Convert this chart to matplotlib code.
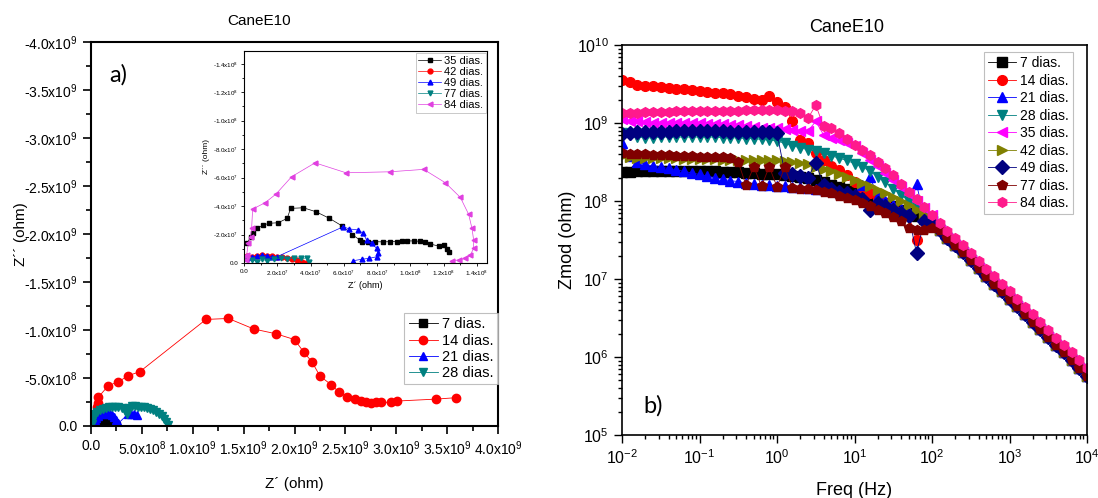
import numpy as np
import matplotlib
matplotlib.use("Agg")
import matplotlib.pyplot as plt
from matplotlib.ticker import FuncFormatter, MultipleLocator, LogLocator, NullFormatter

plt.rcParams['font.family'] = ['Liberation Sans', 'DejaVu Sans']
plt.rcParams['mathtext.default'] = 'regular'

# ---- a) Nyquist 7-28 dias, Z' and -Z'' in units of 1e9 ohm
zre_7 = [0.25, 0.24, 0.23, 0.22, 0.20, 0.18, 0.15, 0.12, 0.09, 0.06, 0.04, 0.02]
mzim_7 = [0.005, 0.015, 0.025, 0.035, 0.045, 0.05, 0.055, 0.055, 0.05, 0.04, 0.03, 0.015]

zre_14 = [3.59, 3.39, 3.01, 2.95, 2.85, 2.80, 2.75, 2.70, 2.65, 2.59, 2.52, 2.44, 2.36, 2.25,
          2.17, 2.09, 2.00, 1.82, 1.60, 1.35, 1.13, 0.48, 0.366, 0.268, 0.17, 0.072, 0.068, 0.063]
mzim_14 = [0.295, 0.28, 0.26, 0.247, 0.245, 0.25, 0.238, 0.247, 0.26, 0.28, 0.305, 0.35, 0.43, 0.52,
           0.67, 0.77, 0.90, 0.96, 1.01, 1.12, 1.11, 0.566, 0.524, 0.46, 0.42, 0.30, 0.236, 0.20]

zre_21 = [0.45, 0.42, 0.39, 0.36, 0.27, 0.25, 0.23, 0.21, 0.19, 0.17, 0.15, 0.13, 0.11,
          0.09, 0.07, 0.05, 0.04, 0.03, 0.02]
mzim_21 = [0.11, 0.12, 0.13, 0.12, 0.03, 0.06, 0.09, 0.11, 0.12, 0.13, 0.14, 0.14, 0.13,
           0.12, 0.10, 0.08, 0.06, 0.04, 0.02]

zre_28 = [0.76, 0.74, 0.72, 0.70, 0.67, 0.64, 0.61, 0.58, 0.55, 0.52, 0.49, 0.46, 0.43, 0.40, 0.37,
          0.35, 0.33, 0.30, 0.27, 0.24, 0.21, 0.18, 0.15, 0.12, 0.09, 0.06, 0.04, 0.02, 0.01, 0.005]
mzim_28 = [0.01, 0.04, 0.07, 0.10, 0.13, 0.15, 0.17, 0.18, 0.19, 0.20, 0.20, 0.20, 0.205, 0.21, 0.19,
           0.13, 0.16, 0.19, 0.20, 0.20, 0.20, 0.20, 0.19, 0.18, 0.17, 0.15, 0.12, 0.09, 0.05, 0.02]

# ---- inset, 35-84 dias, units of 1e7 ohm
zre_35 = [0.2, 0.4, 0.56, 0.8, 1.16, 1.52, 2.06, 2.6, 2.8, 3.57, 4.33, 5.13, 5.9, 6.5, 6.97, 7.07,
          7.47, 7.87, 8.37, 8.77, 9.17, 9.47, 9.77, 10.2, 10.6, 10.9, 11.2, 11.7, 12.0, 12.2, 12.3]
mzim_35 = [1.38, 1.85, 2.13, 2.43, 2.67, 2.79, 2.83, 3.14, 3.84, 3.88, 3.6, 3.14, 2.6, 2.0, 1.61, 1.5,
           1.5, 1.5, 1.48, 1.5, 1.5, 1.52, 1.55, 1.55, 1.52, 1.5, 1.33, 1.19, 1.26, 0.96, 0.79]

zre_42 = [0.2, 0.5, 0.8, 1.1, 1.4, 1.7, 2.0, 2.3, 2.6, 2.9, 3.2, 3.5, 3.75]
mzim_42 = [0.5, 0.45, 0.5, 0.55, 0.5, 0.5, 0.45, 0.4, 0.32, 0.25, 0.18, 0.1, 0.03]

zre_49 = [0.2, 0.5, 0.8, 1.1, 1.4, 1.7, 2.0, 5.97, 6.3, 6.87, 7.17, 7.37, 7.67, 7.97, 8.07, 7.97,
          7.53, 7.07, 6.57]
mzim_49 = [0.35, 0.4, 0.5, 0.55, 0.5, 0.45, 0.45, 2.55, 2.4, 2.32, 2.08, 1.6, 1.38, 1.03, 0.68, 0.44,
           0.33, 0.26, 0.16]

zre_77 = [0.2, 0.5, 0.8, 1.1, 1.4, 1.8, 2.2, 2.6, 3.0, 3.4, 3.8, 3.9]
mzim_77 = [0.3, 0.22, 0.1, 0.28, 0.12, 0.28, 0.33, 0.3, 0.35, 0.32, 0.35, 0.04]

zre_84 = [0.1, 0.1, 0.16, 0.26, 0.40, 0.46, 0.52, 1.26, 1.92, 2.86, 4.27, 6.13, 8.77, 10.8, 12.1,
          13.0, 13.5, 13.7, 13.8, 13.8, 13.6, 13.3, 12.9, 12.5]
mzim_84 = [0.2, 0.5, 0.56, 1.38, 1.85, 2.43, 3.79, 4.23, 4.84, 6.06, 7.04, 6.34, 6.41, 6.58, 5.64,
           4.61, 3.42, 2.43, 1.61, 1.03, 0.56, 0.33, 0.21, 0.16]

# ---- b) Bode modulus, log10(Zmod / ohm)
freq = [0.01, 0.0126, 0.0158, 0.02, 0.0251, 0.0316, 0.0398, 0.0501, 0.0631, 0.0794,
        0.1, 0.126, 0.158, 0.2, 0.251, 0.316, 0.398, 0.501, 0.631, 0.794,
        1, 1.26, 1.58, 2, 2.51, 3.16, 3.98, 5.01, 6.31, 7.94,
        10, 12.6, 15.8, 20, 25.1, 31.6, 39.8, 50.1, 63.1, 79.4,
        100, 126, 158, 200, 251, 316, 398, 501, 631, 794,
        1000, 1260, 1580, 2000, 2510, 3160, 3980, 5010, 6310, 7940, 10000]

# 0.01 Hz .. 100 Hz
logz_7 = [8.37, 8.37, 8.38, 8.38, 8.38, 8.38, 8.38, 8.38, 8.38, 8.38, 8.38, 8.38, 8.38, 8.37, 8.37,
          8.37, 8.36, 8.36, 8.35, 8.35, 8.34,
          8.33, 8.32, 8.31, 8.29, 8.27, 8.24, 8.21, 8.18, 8.15, 8.12, 8.09, 8.05, 8.01, 7.97, 7.93,
          7.89, 7.85, 7.81, 7.77, 7.75]
logz_14 = [9.55, 9.52, 9.49, 9.48, 9.47, 9.46, 9.45, 9.44, 9.43, 9.42, 9.41, 9.40, 9.39, 9.38, 9.37,
           9.35, 9.33, 9.31, 9.30, 9.34, 9.27,
           9.21, 9.02, 8.78, 8.75, 8.62, 8.52, 8.45, 8.40, 8.33, 8.25, 8.17, 8.10, 8.03, 7.97, 7.91,
           7.85, 7.81, 7.50, 7.75, 7.73]
logz_21 = [8.74, 8.58, 8.50, 8.47, 8.45, 8.43, 8.42, 8.40, 8.38, 8.36, 8.34, 8.32, 8.30, 8.28, 8.26,
           8.25, 8.23, 8.22, 8.21, 8.20, 8.19,
           8.19, 8.18, 8.18, 8.17, 8.16, 8.15, 8.14, 8.12, 8.10, 8.08, 8.20, 8.31, 8.06, 8.00, 7.95,
           7.90, 7.86, 8.22, 7.78, 7.75]
logz_28 = [8.87, 8.84, 8.82, 8.81, 8.81, 8.82, 8.82, 8.82, 8.82, 8.82, 8.82, 8.82, 8.82, 8.81, 8.81,
           8.81, 8.80, 8.80, 8.79, 8.78, 8.77,
           8.74, 8.71, 8.68, 8.66, 8.64, 8.61, 8.58, 8.55, 8.52, 8.48, 8.44, 8.38, 8.31, 8.24, 8.16,
           8.08, 8.00, 7.92, 7.84, 7.77]
logz_35 = [9.05, 9.03, 9.02, 9.01, 9.00, 9.00, 9.00, 9.00, 9.00, 9.00, 9.00, 8.99, 8.99, 8.99, 8.98,
           8.97, 8.96, 8.95, 8.94, 8.93, 8.93,
           8.92, 8.91, 8.90, 8.90, 9.02, 8.85, 8.81, 8.78, 8.75, 8.70, 8.62, 8.53, 8.45, 8.36, 8.27,
           8.18, 8.09, 8.00, 7.91, 7.82]
logz_42 = [8.58, 8.56, 8.55, 8.55, 8.55, 8.55, 8.55, 8.55, 8.54, 8.54, 8.54, 8.54, 8.54, 8.53, 8.53,
           8.53, 8.53, 8.53, 8.52, 8.52, 8.52,
           8.51, 8.50, 8.49, 8.47, 8.44, 8.41, 8.38, 8.35, 8.31, 8.27, 8.23, 8.19, 8.14, 8.10, 8.05,
           8.00, 7.95, 7.88, 7.82, 7.75]
logz_49 = [8.86, 8.87, 8.88, 8.88, 8.89, 8.89, 8.89, 8.90, 8.90, 8.90, 8.90, 8.90, 8.90, 8.90, 8.89,
           8.89, 8.89, 8.89, 8.88, 8.88, 8.87,
           8.36, 8.34, 8.32, 8.30, 8.49, 8.20, 8.15, 8.12, 8.10, 8.07, 8.03, 7.88, 7.97, 7.93, 7.89,
           7.85, 7.81, 7.33, 7.75, 7.72]
logz_77 = [8.61, 8.60, 8.60, 8.60, 8.59, 8.59, 8.59, 8.58, 8.58, 8.58, 8.57, 8.57, 8.56, 8.56, 8.55,
           8.50, 8.20, 8.44, 8.19, 8.44, 8.18,
           8.43, 8.17, 8.16, 8.15, 8.14, 8.12, 8.10, 8.07, 8.04, 8.01, 7.97, 7.93, 7.88, 7.84, 7.79,
           7.74, 7.66, 7.63, 7.63, 7.65]
logz_84 = [9.13, 9.13, 9.13, 9.14, 9.14, 9.14, 9.14, 9.15, 9.15, 9.15, 9.15, 9.15, 9.16, 9.16, 9.16,
           9.16, 9.17, 9.17, 9.17, 9.17, 9.17,
           9.16, 9.15, 9.13, 9.06, 9.23, 8.96, 8.93, 8.87, 8.80, 8.72, 8.65, 8.59, 8.50, 8.42, 8.33,
           8.22, 8.12, 8.02, 7.92, 7.82]
# 126 Hz .. 10 kHz, where all curves merge
tail_hi = [7.72, 7.62, 7.53, 7.43, 7.33, 7.23, 7.13, 7.04, 6.94, 6.84,
           6.74, 6.64, 6.55, 6.45, 6.35, 6.25, 6.15, 6.06, 5.96, 5.86]
tail_lo = [7.63, 7.53, 7.43, 7.34, 7.24, 7.14, 7.04, 6.94, 6.85, 6.75,
           6.65, 6.55, 6.45, 6.36, 6.26, 6.16, 6.06, 5.96, 5.86, 5.76]

labels_b = ["7 dias.", "14 dias.", "21 dias.", "28 dias.", "35 dias.",
            "42 dias.", "49 dias.", "77 dias.", "84 dias."]
heads_b = [logz_7, logz_14, logz_21, logz_28, logz_35, logz_42, logz_49, logz_77, logz_84]
markers_b = ['s', 'o', '^', 'v', '<', '>', 'D', 'p', 'h']
colors_b = ['#000000', '#ff0000', '#0000ff', '#008080', '#ff00ff',
            '#808000', '#000080', '#800000', '#ff1a8c']


def sci_label(v, pos):
    if abs(v) < 1:
        return "0.0"
    e = int(np.floor(np.log10(abs(v)) + 1e-9))
    return "%.1fx10$^{%d}$" % (v / 10 ** e, e)


def style_box(ax, lw):
    for s in ax.spines.values():
        s.set_linewidth(lw)


fig = plt.figure(figsize=(10.98, 4.98), dpi=100)

# ---------------- panel a
ax1 = fig.add_axes([0.0829, 0.1446, 0.3707, 0.7711])
a_sets = [(zre_7, mzim_7, 's', '#000000', "7 dias."),
          (zre_14, mzim_14, 'o', '#ff0000', "14 dias."),
          (zre_21, mzim_21, '^', '#0000ff', "21 dias."),
          (zre_28, mzim_28, 'v', '#008080', "28 dias.")]
for xr, yi, m, c, lab in a_sets:
    ax1.plot(np.array(xr) * 1e9, -np.array(yi) * 1e9, marker=m, ms=6, color=c,
             mec=c, lw=0.6, label=lab)
ax1.set_xlim(0, 4.0e9)
ax1.set_ylim(0, -4.0e9)
ax1.xaxis.set_major_locator(MultipleLocator(0.5e9))
ax1.xaxis.set_minor_locator(MultipleLocator(0.25e9))
ax1.yaxis.set_major_locator(MultipleLocator(0.5e9))
ax1.yaxis.set_minor_locator(MultipleLocator(0.25e9))
ax1.xaxis.set_major_formatter(FuncFormatter(sci_label))
ax1.yaxis.set_major_formatter(FuncFormatter(sci_label))
ax1.tick_params(which='both', direction='out', width=1.2, labelsize=10)
ax1.tick_params(which='major', length=6)
ax1.tick_params(which='minor', length=3.5)
style_box(ax1, 1.5)
ax1.set_xlabel("Z\u00b4 (ohm)", fontsize=11)
ax1.set_ylabel("Z\u00b4\u00b4 (ohm)", fontsize=11)
ax1.xaxis.set_label_coords(0.5, -0.133)
ax1.yaxis.set_label_coords(-0.155, 0.5)
leg1 = ax1.legend(loc='upper right', bbox_to_anchor=(1.0, 0.294), fontsize=10.5,
                  frameon=True, fancybox=False, edgecolor='#b0b0b0', borderaxespad=0,
                  handlelength=2.0, labelspacing=0.15, borderpad=0.3, handletextpad=0.3)
leg1.get_frame().set_linewidth(0.8)
ax1.text(0.045, 0.915, "a)", transform=ax1.transAxes, fontsize=17, family='Lato',
         ha='left', va='center')
fig.text(0.236, 0.957, "CaneE10", fontsize=11, ha='center', va='center')

# ---------------- inset
axi = fig.add_axes([0.2222, 0.4719, 0.2213, 0.4257])
i_sets = [(zre_35, mzim_35, 's', '#000000', "35 dias."),
          (zre_42, mzim_42, 'o', '#ff0000', "42 dias."),
          (zre_49, mzim_49, '^', '#0000ff', "49 dias."),
          (zre_77, mzim_77, 'v', '#008080', "77 dias."),
          (zre_84, mzim_84, '<', '#e040e0', "84 dias.")]
for xr, yi, m, c, lab in i_sets:
    axi.plot(np.array(xr) * 1e7, -np.array(yi) * 1e7, marker=m, ms=3.5, color=c,
             mec=c, lw=0.5, label=lab)
axi.set_xlim(0, 1.46e8)
axi.set_ylim(0, -1.49e8)
axi.xaxis.set_major_locator(MultipleLocator(2e7))
axi.xaxis.set_minor_locator(MultipleLocator(1e7))
axi.yaxis.set_major_locator(MultipleLocator(2e7))
axi.yaxis.set_minor_locator(MultipleLocator(1e7))
axi.xaxis.set_major_formatter(FuncFormatter(sci_label))
axi.yaxis.set_major_formatter(FuncFormatter(sci_label))
axi.tick_params(which='both', direction='out', width=0.6, labelsize=4.5, pad=1.5)
axi.tick_params(which='major', length=2.5)
axi.tick_params(which='minor', length=1.5)
style_box(axi, 0.8)
axi.set_xlabel("Z\u00b4 (ohm)", fontsize=6.5, labelpad=2)
axi.set_ylabel("Z\u00b4\u00b4 (ohm)", fontsize=6, labelpad=2)
legi = axi.legend(loc='upper right', bbox_to_anchor=(0.995, 0.99), fontsize=8,
                  frameon=True, fancybox=False, edgecolor='#b0b0b0', borderaxespad=0,
                  handlelength=2.0, labelspacing=0.1, borderpad=0.25, handletextpad=0.3)
legi.get_frame().set_linewidth(0.6)

# ---------------- panel b
ax2 = fig.add_axes([0.5665, 0.1265, 0.4235, 0.7831])
for lab, head, m, c in zip(labels_b, heads_b, markers_b, colors_b):
    tail = tail_hi if lab == "84 dias." else tail_lo
    ax2.plot(freq, 10 ** np.array(head + tail), marker=m, ms=7, color=c, mec=c,
             lw=0.6, label=lab)
ax2.set_xscale('log')
ax2.set_yscale('log')
ax2.set_xlim(1e-2, 1e4)
ax2.set_ylim(1e5, 1e10)
for axis in (ax2.xaxis, ax2.yaxis):
    axis.set_major_locator(LogLocator(base=10, numticks=20))
    axis.set_minor_locator(LogLocator(base=10, subs=np.arange(2, 10), numticks=20))
    axis.set_minor_formatter(NullFormatter())
ax2.tick_params(which='both', direction='out', width=1.0, labelsize=11.5)
ax2.tick_params(which='major', length=6)
ax2.tick_params(which='minor', length=3)
style_box(ax2, 1.2)
ax2.set_xlabel("Freq (Hz)", fontsize=13)
ax2.set_ylabel("Zmod (ohm)", fontsize=13)
ax2.xaxis.set_label_coords(0.5, -0.12)
ax2.yaxis.set_label_coords(-0.1, 0.5)
leg2 = ax2.legend(loc='upper right', bbox_to_anchor=(0.970, 0.982), fontsize=10,
                  frameon=True, fancybox=False, edgecolor='#b0b0b0', borderaxespad=0,
                  handlelength=2.0, labelspacing=0.25, borderpad=0.3, handletextpad=0.3)
leg2.get_frame().set_linewidth(0.8)
ax2.text(0.045, 0.075, "b)", transform=ax2.transAxes, fontsize=17, family='Lato',
         ha='left', va='center')
fig.text(0.771, 0.944, "CaneE10", fontsize=13, ha='center', va='center')

fig.savefig('out.png', dpi=100)
